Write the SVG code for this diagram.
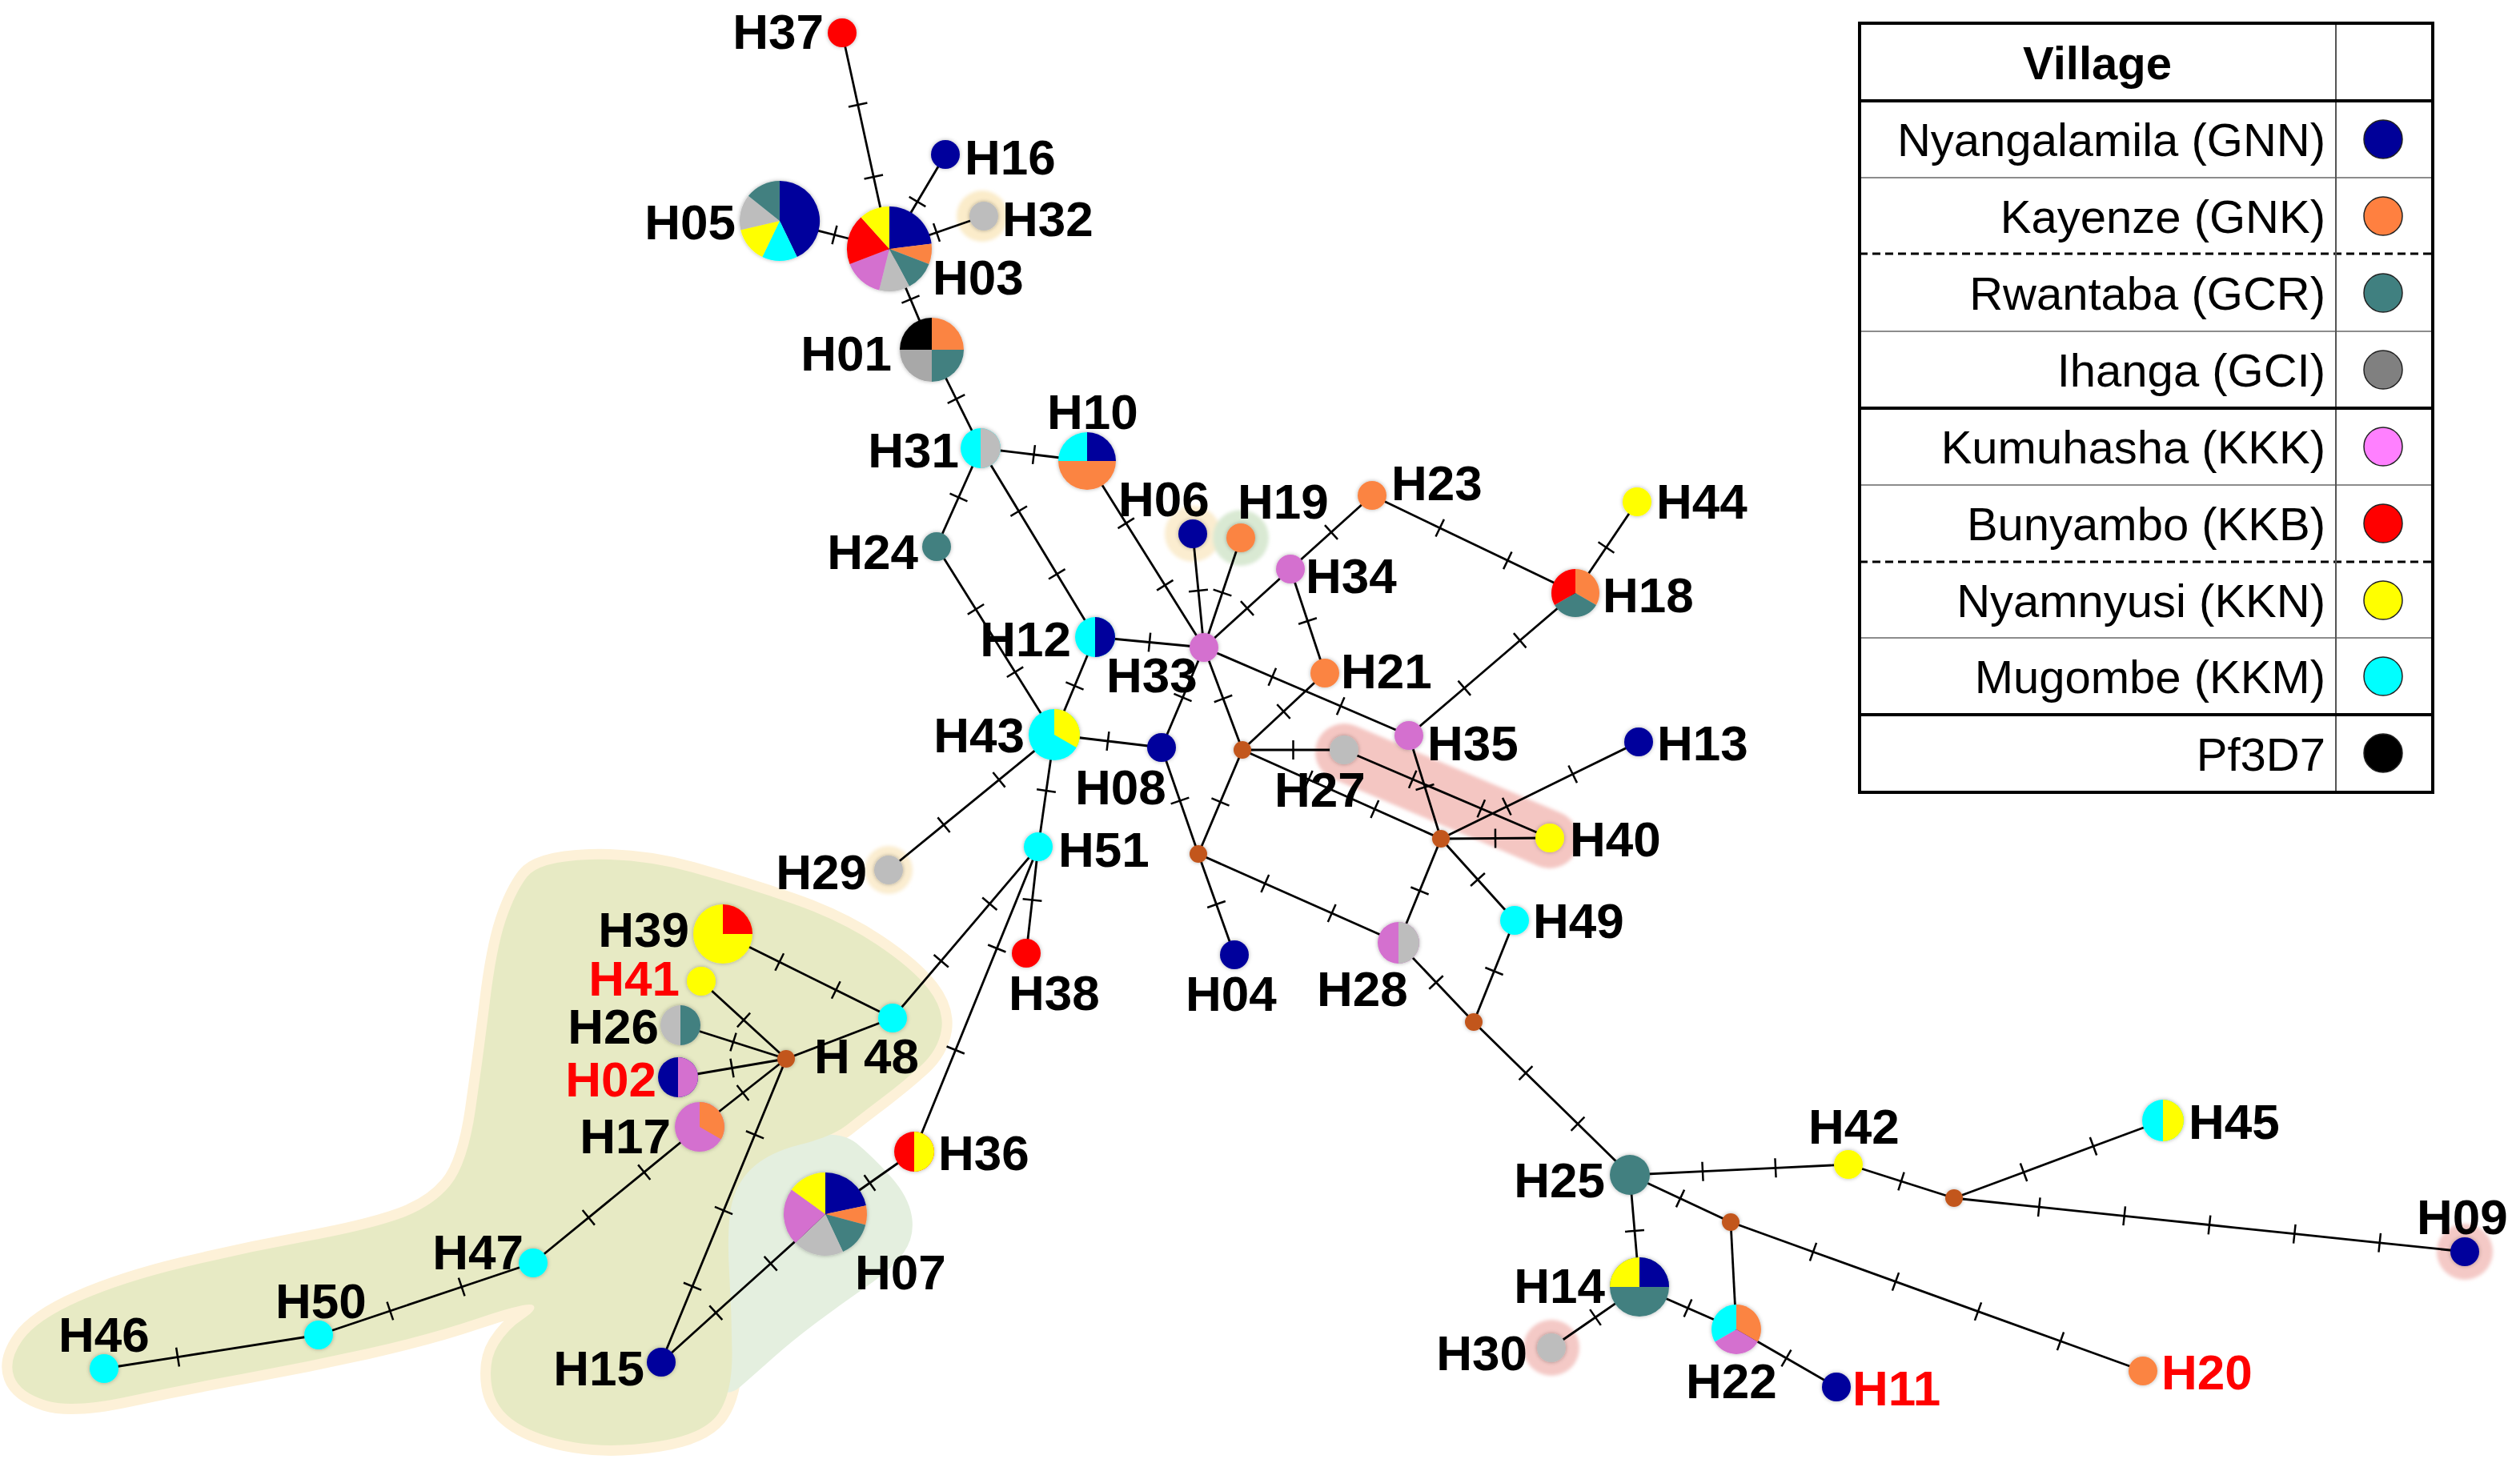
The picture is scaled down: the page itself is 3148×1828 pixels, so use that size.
<svg xmlns="http://www.w3.org/2000/svg" width="3148" height="1828" viewBox="0 0 3148 1828">
<defs>
<style>
.lbl{font-family:"Liberation Sans",Arial,sans-serif;font-weight:bold;font-size:62px;fill:#000}
.lr{fill:#ff0000}
.e{fill:none;stroke:#000;stroke-width:2.8;marker-mid:url(#t)}
.nv{fill:#00009c}.or{fill:#fb8443}.tl{fill:#428080}.gy{fill:#bdbdbd}.gd{fill:#a8a8a8}.pk{fill:#d46fcf}.rd{fill:#ff0000}.yl{fill:#ffff00}.cy{fill:#00ffff}.bk{fill:#000}.jn{fill:#c2561e}
.leg{font-family:"Liberation Sans",Arial,sans-serif;font-size:58px;fill:#000}
.lc{stroke:#222;stroke-width:1.5}
.thk{stroke:#000;stroke-width:4}
.thn{stroke:#8c8c8c;stroke-width:2}
.dsh{stroke:#000;stroke-width:3;stroke-dasharray:10 6}
</style>
<marker id="t" viewBox="-14 -14 28 28" markerWidth="28" markerHeight="28" markerUnits="userSpaceOnUse" orient="auto"><path d="M0,-12V12" stroke="#000" stroke-width="2.5"/></marker>
<filter id="sh" x="-40%" y="-40%" width="180%" height="180%"><feDropShadow dx="0" dy="0" stdDeviation="2.5" flood-color="#000" flood-opacity="0.3"/></filter>
<filter id="bl" x="-20%" y="-20%" width="140%" height="140%"><feGaussianBlur stdDeviation="2"/></filter>
</defs>
<rect width="3148" height="1828" fill="#fff"/>
<g id="regions">
<path d="M658,1096 Q673,1076 736.5,1074 Q800,1072 865,1090 Q930,1108 990,1129 Q1050,1150 1095,1180 Q1140,1210 1160,1236 Q1180,1262 1176,1287 Q1172,1312 1150,1332 Q1128,1352 1101.5,1372 Q1075,1392 1057.5,1406 Q1040,1420 1000,1430 Q960,1440 939,1460 Q918,1480 913,1510 Q908,1540 911,1590 Q914,1640 914.5,1690 Q915,1740 897.5,1766 Q880,1792 822.5,1801 Q765,1810 719,1802.5 Q673,1795 645.5,1777.5 Q618,1760 614,1730 Q610,1700 622.5,1680 Q635,1660 653.5,1648 Q672,1636 666,1631 Q660,1626 598,1647 Q536,1668 459.5,1685 Q383,1702 306.5,1716 Q230,1730 160,1745 Q90,1760 57.5,1750 Q25,1740 17.5,1720 Q10,1700 28,1674.5 Q46,1649 99.5,1625.5 Q153,1602 229.5,1583.5 Q306,1565 382.5,1551 Q459,1537 499.5,1522.5 Q540,1508 562,1481.5 Q584,1455 594,1386 Q604,1317 612,1251 Q620,1185 631.5,1150.5 Q643,1116 658,1096 Z" fill="#fdf1d8" stroke="#fdf1d8" stroke-width="26" stroke-linejoin="round"/>
<path d="M885,1490 Q900,1460 930,1444 Q960,1428 1005,1420 Q1050,1412 1070,1428.5 Q1090,1445 1112.5,1470 Q1135,1495 1139,1520 Q1143,1545 1129,1565 Q1115,1585 1082.5,1607.5 Q1050,1630 1020,1652.5 Q990,1675 967.5,1695 Q945,1715 925,1732.5 Q905,1750 887.5,1725 Q870,1700 870,1610 Q870,1520 885,1490 Z" fill="#e4efdf"/>
<path d="M658,1096 Q673,1076 736.5,1074 Q800,1072 865,1090 Q930,1108 990,1129 Q1050,1150 1095,1180 Q1140,1210 1160,1236 Q1180,1262 1176,1287 Q1172,1312 1150,1332 Q1128,1352 1101.5,1372 Q1075,1392 1057.5,1406 Q1040,1420 1000,1430 Q960,1440 939,1460 Q918,1480 913,1510 Q908,1540 911,1590 Q914,1640 914.5,1690 Q915,1740 897.5,1766 Q880,1792 822.5,1801 Q765,1810 719,1802.5 Q673,1795 645.5,1777.5 Q618,1760 614,1730 Q610,1700 622.5,1680 Q635,1660 653.5,1648 Q672,1636 666,1631 Q660,1626 598,1647 Q536,1668 459.5,1685 Q383,1702 306.5,1716 Q230,1730 160,1745 Q90,1760 57.5,1750 Q25,1740 17.5,1720 Q10,1700 28,1674.5 Q46,1649 99.5,1625.5 Q153,1602 229.5,1583.5 Q306,1565 382.5,1551 Q459,1537 499.5,1522.5 Q540,1508 562,1481.5 Q584,1455 594,1386 Q604,1317 612,1251 Q620,1185 631.5,1150.5 Q643,1116 658,1096 Z" fill="#e7eac4"/>
<g filter="url(#bl)">
<line x1="1679" y1="940" x2="1936" y2="1049" stroke="#f4c6c2" stroke-width="72" stroke-linecap="round"/>
<circle cx="1227" cy="270" r="32" fill="#fbecca"/>
<circle cx="1490" cy="667" r="35" fill="#fbedd0"/>
<circle cx="1550" cy="672" r="35" fill="#d9e9d3"/>
<circle cx="1110" cy="1087" r="30" fill="#fbedd0"/>
<circle cx="3079" cy="1564" r="35" fill="#f4c9c6"/>
<circle cx="1938" cy="1684" r="35" fill="#f4c9c6"/>
</g>
</g>
<g id="connectors">
<polyline class="e" points="1052,41 1071.7,131 1091.3,221 1111,311"/>
<polyline class="e" points="1181,193 1146,252 1111,311"/>
<polyline class="e" points="974,276 1042.5,293.5 1111,311"/>
<polyline class="e" points="1229,270 1170,290.5 1111,311"/>
<polyline class="e" points="1111,311 1137.5,374 1164,437"/>
<polyline class="e" points="1164,437 1194.5,498.5 1225,560"/>
<polyline class="e" points="1225,560 1291.5,568 1358,576"/>
<polyline class="e" points="1225,560 1197.5,621.5 1170,683"/>
<polyline class="e" points="1225,560 1272.7,638.7 1320.3,717.3 1368,796"/>
<polyline class="e" points="1170,683 1219,761.3 1268,839.7 1317,918"/>
<polyline class="e" points="1358,576 1406.7,653.7 1455.3,731.3 1504,809"/>
<polyline class="e" points="1490,667 1497,738 1504,809"/>
<polyline class="e" points="1550,672 1527,740.5 1504,809"/>
<polyline class="e" points="1612,711 1558,760 1504,809"/>
<polyline class="e" points="1714,619 1663,665 1612,711"/>
<polyline class="e" points="1612,711 1633.5,776 1655,841"/>
<polyline class="e" points="1368,796 1436,802.5 1504,809"/>
<polyline class="e" points="1368,796 1342.5,857 1317,918"/>
<polyline class="e" points="1504,809 1589.3,845.7 1674.7,882.3 1760,919"/>
<polyline class="e" points="1504,809 1477.5,871.5 1451,934"/>
<polyline class="e" points="1504,809 1528,873 1552,937"/>
<polyline class="e" points="1655,841 1603.5,889 1552,937"/>
<polyline class="e" points="1714,619 1798.7,659.7 1883.3,700.3 1968,741"/>
<polyline class="e" points="2045,627 2006.5,684 1968,741"/>
<polyline class="e" points="1968,741 1898.7,800.3 1829.3,859.7 1760,919"/>
<polyline class="e" points="1317,918 1384,926 1451,934"/>
<polyline class="e" points="1317,918 1248,974.3 1179,1030.7 1110,1087"/>
<polyline class="e" points="1317,918 1307,988 1297,1058"/>
<polyline class="e" points="1451,934 1474,1000.5 1497,1067"/>
<polyline class="e" points="1552,937 1615.5,937 1679,937"/>
<polyline class="e" points="1552,937 1634.7,974 1717.3,1011 1800,1048"/>
<polyline class="e" points="1552,937 1524.5,1002 1497,1067"/>
<polyline class="e" points="1679,937 1764.7,973.7 1850.3,1010.3 1936,1047"/>
<polyline class="e" points="1760,919 1780,983.5 1800,1048"/>
<polyline class="e" points="2047,927 1964.7,967.3 1882.3,1007.7 1800,1048"/>
<polyline class="e" points="1800,1048 1868,1047.5 1936,1047"/>
<polyline class="e" points="1800,1048 1773.5,1113 1747,1178"/>
<polyline class="e" points="1800,1048 1846,1099 1892,1150"/>
<polyline class="e" points="1497,1067 1519.5,1130 1542,1193"/>
<polyline class="e" points="1497,1067 1580.3,1104 1663.7,1141 1747,1178"/>
<polyline class="e" points="1747,1178 1794,1227.5 1841,1277"/>
<polyline class="e" points="1892,1150 1866.5,1213.5 1841,1277"/>
<polyline class="e" points="1841,1277 1906,1340.7 1971,1404.3 2036,1468"/>
<polyline class="e" points="1297,1058 1289.5,1124.5 1282,1191"/>
<polyline class="e" points="1297,1058 1236.3,1129.3 1175.7,1200.7 1115,1272"/>
<polyline class="e" points="1297,1058 1245.3,1185 1193.7,1312 1142,1439"/>
<polyline class="e" points="903,1167 973.7,1202 1044.3,1237 1115,1272"/>
<polyline class="e" points="1115,1272 982,1323"/>
<polyline class="e" points="876,1226 929,1274.5 982,1323"/>
<polyline class="e" points="850,1281 916,1302 982,1323"/>
<polyline class="e" points="847,1346 914.5,1334.5 982,1323"/>
<polyline class="e" points="874,1408 928,1365.5 982,1323"/>
<polyline class="e" points="982,1323 943,1417.8 904,1512.5 865,1607.3 826,1702"/>
<polyline class="e" points="874,1408 804.7,1464.7 735.3,1521.3 666,1578"/>
<polyline class="e" points="666,1578 576.7,1608 487.3,1638 398,1668"/>
<polyline class="e" points="398,1668 222,1695.6 130,1710"/>
<polyline class="e" points="1142,1439 1086.5,1478 1031,1517"/>
<polyline class="e" points="1031,1517 962.7,1578.7 894.3,1640.3 826,1702"/>
<polyline class="e" points="2036,1468 2127,1463.7 2218,1459.3 2309,1455"/>
<polyline class="e" points="2309,1455 2375,1476 2441,1497"/>
<polyline class="e" points="2441,1497 2528,1464.7 2615,1432.3 2702,1400"/>
<polyline class="e" points="2441,1497 2547.3,1508.2 2653.7,1519.3 2760,1530.5 2866.3,1541.7 2972.7,1552.8 3079,1564"/>
<polyline class="e" points="2036,1468 2042,1538 2048,1608"/>
<polyline class="e" points="2036,1468 2099,1497.5 2162,1527"/>
<polyline class="e" points="2162,1527 2169,1661"/>
<polyline class="e" points="2162,1527 2265,1564.2 2368,1601.4 2471,1638.6 2574,1675.8 2677,1713"/>
<polyline class="e" points="2048,1608 1993,1646 1938,1684"/>
<polyline class="e" points="2048,1608 2108.5,1634.5 2169,1661"/>
<polyline class="e" points="2169,1661 2231.5,1697 2294,1733"/>
</g>
<g id="junctions" filter="url(#sh)">
<circle id="mv1" class="jn" cx="1552" cy="937" r="11"/>
<circle id="mv2" class="jn" cx="1800" cy="1048" r="11"/>
<circle id="mv3" class="jn" cx="1497" cy="1067" r="11"/>
<circle id="mv4" class="jn" cx="1841" cy="1277" r="11"/>
<circle id="mv5" class="jn" cx="982" cy="1323" r="11"/>
<circle id="mv6" class="jn" cx="2441" cy="1497" r="11"/>
<circle id="mv7" class="jn" cx="2162" cy="1527" r="11"/>
</g>
<g id="nodes">
<g id="H37"><circle class="rd" cx="1052" cy="41" r="18" filter="url(#sh)"/><text class="lbl" x="1029" y="61" text-anchor="end">H37</text></g>
<g id="H16"><circle class="nv" cx="1181" cy="193" r="18" filter="url(#sh)"/><text class="lbl" x="1205" y="218">H16</text></g>
<g id="H05"><g filter="url(#sh)">
<path class="nv" d="M974,276 L974,226 A50,50 0 0 1 995.7,321.1 Z"/>
<path class="cy" d="M974,276 L995.7,321.1 A50,50 0 0 1 952.3,321.1 Z"/>
<path class="yl" d="M974,276 L952.3,321.1 A50,50 0 0 1 925.3,287.2 Z"/>
<path class="gy" d="M974,276 L925.3,287.2 A50,50 0 0 1 934.9,244.8 Z"/>
<path class="tl" d="M974,276 L934.9,244.8 A50,50 0 0 1 974,226 Z"/>
</g><text class="lbl" x="919" y="299" text-anchor="end">H05</text></g>
<g id="H03"><g filter="url(#sh)">
<path class="nv" d="M1111,311 L1111,258 A53,53 0 0 1 1163.6,304.5 Z"/>
<path class="or" d="M1111,311 L1163.6,304.5 A53,53 0 0 1 1160.5,330 Z"/>
<path class="tl" d="M1111,311 L1160.5,330 A53,53 0 0 1 1135.9,357.8 Z"/>
<path class="gy" d="M1111,311 L1135.9,357.8 A53,53 0 0 1 1098.2,362.4 Z"/>
<path class="pk" d="M1111,311 L1098.2,362.4 A53,53 0 0 1 1061.5,330 Z"/>
<path class="rd" d="M1111,311 L1061.5,330 A53,53 0 0 1 1075.5,271.6 Z"/>
<path class="yl" d="M1111,311 L1075.5,271.6 A53,53 0 0 1 1111,258 Z"/>
</g><text class="lbl" x="1165" y="368">H03</text></g>
<g id="H32"><circle class="gy" cx="1229" cy="270" r="18" filter="url(#sh)"/><text class="lbl" x="1252" y="295">H32</text></g>
<g id="H01"><g filter="url(#sh)">
<path class="or" d="M1164,437 L1164,397 A40,40 0 0 1 1204,437 Z"/>
<path class="tl" d="M1164,437 L1204,437 A40,40 0 0 1 1164,477 Z"/>
<path class="gd" d="M1164,437 L1164,477 A40,40 0 0 1 1124,437 Z"/>
<path class="bk" d="M1164,437 L1124,437 A40,40 0 0 1 1164,397 Z"/>
</g><text class="lbl" x="1114" y="463" text-anchor="end">H01</text></g>
<g id="H31"><g filter="url(#sh)"><circle class="cy" cx="1225" cy="560" r="25"/><path class="gy" d="M1225,535 A25,25 0 0 1 1225,585 Z"/></g><text class="lbl" x="1198" y="584" text-anchor="end">H31</text></g>
<g id="H10"><g filter="url(#sh)">
<path class="nv" d="M1358,576 L1358,540 A36,36 0 0 1 1394,576 Z"/>
<path class="or" d="M1358,576 L1394,576 A36,36 0 0 1 1322,576 Z"/>
<path class="cy" d="M1358,576 L1322,576 A36,36 0 0 1 1358,540 Z"/>
</g><text class="lbl" x="1308" y="536">H10</text></g>
<g id="H24"><circle class="tl" cx="1170" cy="683" r="18" filter="url(#sh)"/><text class="lbl" x="1147" y="711" text-anchor="end">H24</text></g>
<g id="H06"><circle class="nv" cx="1490" cy="667" r="18" filter="url(#sh)"/><text class="lbl" x="1397" y="645">H06</text></g>
<g id="H19"><circle class="or" cx="1550" cy="672" r="18" filter="url(#sh)"/><text class="lbl" x="1546" y="648">H19</text></g>
<g id="H23"><circle class="or" cx="1714" cy="619" r="18" filter="url(#sh)"/><text class="lbl" x="1738" y="625">H23</text></g>
<g id="H44"><circle class="yl" cx="2045" cy="627" r="18" filter="url(#sh)"/><text class="lbl" x="2069" y="648">H44</text></g>
<g id="H34"><circle class="pk" cx="1612" cy="711" r="18" filter="url(#sh)"/><text class="lbl" x="1631" y="741">H34</text></g>
<g id="H18"><g filter="url(#sh)">
<path class="or" d="M1968,741 L1968,711 A30,30 0 0 1 1994,756 Z"/>
<path class="tl" d="M1968,741 L1994,756 A30,30 0 0 1 1942,756 Z"/>
<path class="rd" d="M1968,741 L1942,756 A30,30 0 0 1 1968,711 Z"/>
</g><text class="lbl" x="2002" y="765">H18</text></g>
<g id="H12"><g filter="url(#sh)"><circle class="cy" cx="1368" cy="796" r="25"/><path class="nv" d="M1368,771 A25,25 0 0 1 1368,821 Z"/></g><text class="lbl" x="1338" y="820" text-anchor="end">H12</text></g>
<g id="H33"><circle class="pk" cx="1504" cy="809" r="18" filter="url(#sh)"/><text class="lbl" x="1382" y="865">H33</text></g>
<g id="H21"><circle class="or" cx="1655" cy="841" r="18" filter="url(#sh)"/><text class="lbl" x="1675" y="860">H21</text></g>
<g id="H43"><g filter="url(#sh)"><circle class="cy" cx="1317" cy="918" r="32"/><path class="yl" d="M1317,918 L1317,886 A32,32 0 0 1 1344.7,934 Z"/></g><text class="lbl" x="1280" y="940" text-anchor="end">H43</text></g>
<g id="H08"><circle class="nv" cx="1451" cy="934" r="18" filter="url(#sh)"/><text class="lbl" x="1343" y="1005">H08</text></g>
<g id="H27"><circle class="gy" cx="1679" cy="937" r="18" filter="url(#sh)"/><text class="lbl" x="1592" y="1008">H27</text></g>
<g id="H35"><circle class="pk" cx="1760" cy="919" r="18" filter="url(#sh)"/><text class="lbl" x="1783" y="950">H35</text></g>
<g id="H13"><circle class="nv" cx="2047" cy="927" r="18" filter="url(#sh)"/><text class="lbl" x="2070" y="950">H13</text></g>
<g id="H40"><circle class="yl" cx="1936" cy="1047" r="18" filter="url(#sh)"/><text class="lbl" x="1961" y="1070">H40</text></g>
<g id="H29"><circle class="gy" cx="1110" cy="1087" r="18" filter="url(#sh)"/><text class="lbl" x="1083" y="1111" text-anchor="end">H29</text></g>
<g id="H51"><circle class="cy" cx="1297" cy="1058" r="18" filter="url(#sh)"/><text class="lbl" x="1322" y="1083">H51</text></g>
<g id="H49"><circle class="cy" cx="1892" cy="1150" r="18" filter="url(#sh)"/><text class="lbl" x="1915" y="1172">H49</text></g>
<g id="H39"><g filter="url(#sh)"><circle class="yl" cx="903" cy="1167" r="37"/><path class="rd" d="M903,1167 L903,1130 A37,37 0 0 1 940,1167 Z"/></g><text class="lbl" x="861" y="1183" text-anchor="end">H39</text></g>
<g id="H41"><circle class="yl" cx="876" cy="1226" r="18" filter="url(#sh)"/><text class="lbl lr" x="849" y="1244" text-anchor="end">H41</text></g>
<g id="H26"><g filter="url(#sh)"><circle class="gy" cx="850" cy="1281" r="25"/><path class="tl" d="M850,1256 A25,25 0 0 1 850,1306 Z"/></g><text class="lbl" x="823" y="1304" text-anchor="end">H26</text></g>
<g id="H02"><g filter="url(#sh)"><circle class="nv" cx="847" cy="1346" r="25"/><path class="pk" d="M847,1321 A25,25 0 0 1 847,1371 Z"/></g><text class="lbl lr" x="820" y="1370" text-anchor="end">H02</text></g>
<g id="H17"><g filter="url(#sh)"><circle class="pk" cx="874" cy="1408" r="31"/><path class="or" d="M874,1408 L874,1377 A31,31 0 0 1 900.8,1423.5 Z"/></g><text class="lbl" x="838" y="1441" text-anchor="end">H17</text></g>
<g id="H38"><circle class="rd" cx="1282" cy="1191" r="18" filter="url(#sh)"/><text class="lbl" x="1260" y="1262">H38</text></g>
<g id="H04"><circle class="nv" cx="1542" cy="1193" r="18" filter="url(#sh)"/><text class="lbl" x="1481" y="1263">H04</text></g>
<g id="H28"><g filter="url(#sh)"><circle class="pk" cx="1747" cy="1178" r="26"/><path class="gy" d="M1747,1152 A26,26 0 0 1 1747,1204 Z"/></g><text class="lbl" x="1645" y="1257">H28</text></g>
<g id="H48"><circle class="cy" cx="1115" cy="1272" r="18" filter="url(#sh)"/><text class="lbl" x="1017" y="1341">H 48</text></g>
<g id="H36"><g filter="url(#sh)"><circle class="rd" cx="1142" cy="1439" r="25"/><path class="yl" d="M1142,1414 A25,25 0 0 1 1142,1464 Z"/></g><text class="lbl" x="1172" y="1462">H36</text></g>
<g id="H07"><g filter="url(#sh)">
<path class="nv" d="M1031,1517 L1031,1465 A52,52 0 0 1 1081.9,1506.2 Z"/>
<path class="or" d="M1031,1517 L1081.9,1506.2 A52,52 0 0 1 1081.2,1530.5 Z"/>
<path class="tl" d="M1031,1517 L1081.2,1530.5 A52,52 0 0 1 1053,1564.1 Z"/>
<path class="gy" d="M1031,1517 L1053,1564.1 A52,52 0 0 1 993.6,1553.1 Z"/>
<path class="pk" d="M1031,1517 L993.6,1553.1 A52,52 0 0 1 988.9,1486.4 Z"/>
<path class="yl" d="M1031,1517 L988.9,1486.4 A52,52 0 0 1 1031,1465 Z"/>
</g><text class="lbl" x="1068" y="1611">H07</text></g>
<g id="H47"><circle class="cy" cx="666" cy="1578" r="18" filter="url(#sh)"/><text class="lbl" x="654" y="1586" text-anchor="end">H47</text></g>
<g id="H50"><circle class="cy" cx="398" cy="1668" r="18" filter="url(#sh)"/><text class="lbl" x="344" y="1647">H50</text></g>
<g id="H46"><circle class="cy" cx="130" cy="1710" r="18" filter="url(#sh)"/><text class="lbl" x="73" y="1689">H46</text></g>
<g id="H15"><circle class="nv" cx="826" cy="1702" r="18" filter="url(#sh)"/><text class="lbl" x="805" y="1731" text-anchor="end">H15</text></g>
<g id="H25"><circle class="tl" cx="2036" cy="1468" r="25" filter="url(#sh)"/><text class="lbl" x="2005" y="1496" text-anchor="end">H25</text></g>
<g id="H42"><circle class="yl" cx="2309" cy="1455" r="18" filter="url(#sh)"/><text class="lbl" x="2259" y="1429">H42</text></g>
<g id="H45"><g filter="url(#sh)"><circle class="cy" cx="2702" cy="1400" r="26"/><path class="yl" d="M2702,1374 A26,26 0 0 1 2702,1426 Z"/></g><text class="lbl" x="2734" y="1423">H45</text></g>
<g id="H09"><circle class="nv" cx="3079" cy="1564" r="18" filter="url(#sh)"/><text class="lbl" x="3019" y="1542">H09</text></g>
<g id="H14"><g filter="url(#sh)"><circle class="tl" cx="2048" cy="1608" r="37"/><path class="nv" d="M2048,1608 L2048,1571 A37,37 0 0 1 2085,1608 Z"/><path class="yl" d="M2048,1608 L2011,1608 A37,37 0 0 1 2048,1571 Z"/></g><text class="lbl" x="2005" y="1628" text-anchor="end">H14</text></g>
<g id="H30"><circle class="gy" cx="1938" cy="1684" r="18" filter="url(#sh)"/><text class="lbl" x="1908" y="1712" text-anchor="end">H30</text></g>
<g id="H22"><g filter="url(#sh)">
<path class="or" d="M2169,1661 L2169,1630 A31,31 0 0 1 2195.8,1676.5 Z"/>
<path class="pk" d="M2169,1661 L2195.8,1676.5 A31,31 0 0 1 2142.2,1676.5 Z"/>
<path class="cy" d="M2169,1661 L2142.2,1676.5 A31,31 0 0 1 2169,1630 Z"/>
</g><text class="lbl" x="2106" y="1747">H22</text></g>
<g id="H11"><circle class="nv" cx="2294" cy="1733" r="18" filter="url(#sh)"/><text class="lbl lr" x="2314" y="1756">H11</text></g>
<g id="H20"><circle class="or" cx="2677" cy="1713" r="18" filter="url(#sh)"/><text class="lbl lr" x="2700" y="1736">H20</text></g>
</g>
<g id="legend">
<rect x="2323" y="29" width="716" height="961" fill="#fff"/>
<line class="thn" x1="2323" y1="222" x2="3039" y2="222"/>
<line class="thn" x1="2323" y1="414" x2="3039" y2="414"/>
<line class="thn" x1="2323" y1="606" x2="3039" y2="606"/>
<line class="thn" x1="2323" y1="797" x2="3039" y2="797"/>
<line class="dsh" x1="2323" y1="317" x2="3039" y2="317"/>
<line class="dsh" x1="2323" y1="702" x2="3039" y2="702"/>
<line x1="2918" y1="29" x2="2918" y2="990" stroke="#555" stroke-width="2"/>
<line class="thk" x1="2323" y1="126" x2="3039" y2="126"/>
<line class="thk" x1="2323" y1="510" x2="3039" y2="510"/>
<line class="thk" x1="2323" y1="893" x2="3039" y2="893"/>
<rect x="2323" y="29" width="716" height="961" fill="none" stroke="#000" stroke-width="4"/>
<text class="leg" x="2620" y="99" text-anchor="middle" font-weight="bold" font-size="56">Village</text>
<text class="leg" x="2905" y="195" text-anchor="end">Nyangalamila (GNN)</text>
<text class="leg" x="2905" y="291" text-anchor="end">Kayenze (GNK)</text>
<text class="leg" x="2905" y="387" text-anchor="end">Rwantaba (GCR)</text>
<text class="leg" x="2905" y="483" text-anchor="end">Ihanga (GCI)</text>
<text class="leg" x="2905" y="579" text-anchor="end">Kumuhasha (KKK)</text>
<text class="leg" x="2905" y="675" text-anchor="end">Bunyambo (KKB)</text>
<text class="leg" x="2905" y="771" text-anchor="end">Nyamnyusi (KKN)</text>
<text class="leg" x="2905" y="866" text-anchor="end">Mugombe (KKM)</text>
<text class="leg" x="2905" y="963" text-anchor="end">Pf3D7</text>
<circle class="lc" cx="2977" cy="174" r="24" fill="#000099"/>
<circle class="lc" cx="2977" cy="270" r="24" fill="#ff8040"/>
<circle class="lc" cx="2977" cy="366" r="24" fill="#408080"/>
<circle class="lc" cx="2977" cy="462" r="24" fill="#808080"/>
<circle class="lc" cx="2977" cy="558" r="24" fill="#ff80ff"/>
<circle class="lc" cx="2977" cy="654" r="24" fill="#ff0000"/>
<circle class="lc" cx="2977" cy="750" r="24" fill="#ffff00"/>
<circle class="lc" cx="2977" cy="845" r="24" fill="#00ffff"/>
<circle class="lc" cx="2977" cy="941" r="24" fill="#000000"/>
</g>
</svg>
